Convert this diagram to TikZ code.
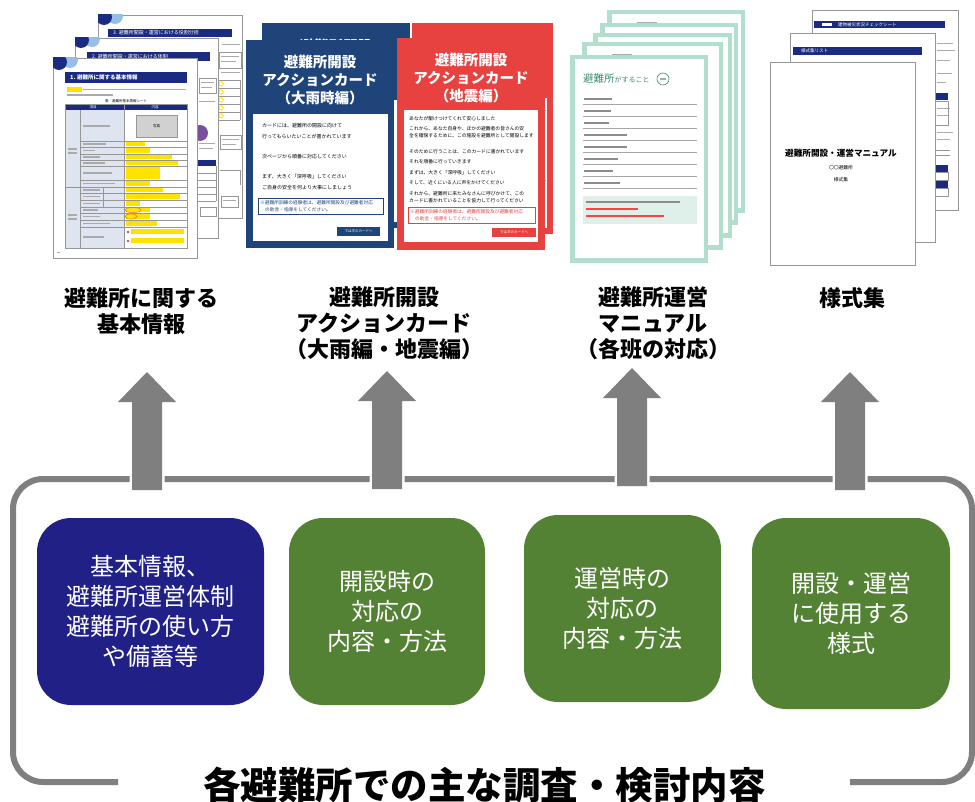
\documentclass[tikz,border=0pt]{standalone}
\usepackage{fontspec}
\setmainfont{Noto Sans CJK JP}
\definecolor{agray}{RGB}{127,127,127}
\definecolor{boxnavy}{RGB}{32,32,135}
\definecolor{boxgreen}{RGB}{84,130,53}
\definecolor{cardblue}{RGB}{30,68,122}
\definecolor{cardred}{RGB}{232,66,64}
\definecolor{docnavy}{RGB}{28,43,130}
\definecolor{lightblu}{RGB}{150,190,230}
\definecolor{cellblue}{RGB}{222,229,240}
\definecolor{hiyellow}{RGB}{255,226,0}
\definecolor{mintc}{RGB}{178,222,206}
\definecolor{mintlight}{RGB}{222,240,233}
\definecolor{tealtxt}{RGB}{60,140,115}
\definecolor{txtgray}{RGB}{170,170,170}
\definecolor{edgegray}{RGB}{150,150,150}
\definecolor{docpurple}{RGB}{120,80,155}
\definecolor{hiorange}{RGB}{230,120,20}
\tikzset{
  uparrow/.pic={
    \draw[white, line width=5pt] (0,0) -- (29,30) -- (15,30) -- (15,118) -- (-15,118) -- (-15,30) -- (-29,30) -- cycle;
    \fill[agray] (0,0) -- (29,30) -- (15,30) -- (15,118) -- (-15,118) -- (-15,30) -- (-29,30) -- cycle;
  }
}
\begin{document}
\begin{tikzpicture}[x=1pt,y=-1pt,
  pageedge/.style={draw=edgegray, line width=0.7pt, fill=white},
  hdrbar/.style={fill=docnavy},
  thinline/.style={draw=edgegray, line width=0.35pt},
  tinytxt/.style={inner sep=0pt, font=\fontsize{5}{6}\selectfont},
  minitxt/.style={inner sep=0pt, font=\fontsize{3.5}{4}\selectfont},
  cardtitle/.style={text=white, font=\bfseries\fontsize{14.5}{18}\selectfont, align=center, inner sep=0pt},
  topicbox/.style={rounded corners=34pt, text=white, align=center, inner sep=0pt, font=\fontsize{24}{30}\selectfont},
  doclabel/.style={align=center, font=\bfseries\fontsize{22}{26}\selectfont, inner sep=0pt},
  frameline/.style={draw=agray, line width=6pt, rounded corners=30pt}
]
\useasboundingbox (0,0) rectangle (975,802);
\fill[white] (0,0) rectangle (975,802);

% ================= SET 1 : basic information pages =================
% page 3
\draw[pageedge] (98,15) rectangle (242,218);
\begin{scope}
  \clip (98,15) rectangle (242,218);
  \fill[lightblu] (115,16) circle (8);
  \fill[docnavy] (104,17) circle (8);
\end{scope}
\fill[hdrbar] (108,29) rectangle (232,37);
\node[tinytxt, text=white, anchor=west] (p3h) at (113,33) {3. 避難所開設・運営における役割分担};
\fill[txtgray] (222,44) rectangle (240,45.5);
\draw[thinline] (219,52) rectangle (241,68);
\fill[txtgray] (221,56) rectangle (239,57.2);
\fill[txtgray] (221,61) rectangle (236,62.2);
\fill[txtgray] (221,72) rectangle (240,73.3);
\foreach \yy in {80,88,96,104,112,120} \draw[thinline] (218,\yy) -- (240,\yy);
\draw[thinline] (240,80) -- (240,120);
\foreach \yy in {84,92,100,108,116} \draw[hiyellow, line width=0.8pt] (221,\yy) circle (2.2);
\draw[thinline] (220,135) rectangle (241,149);
\fill[txtgray] (222,139) rectangle (239,140.2);
\fill[txtgray] (222,144) rectangle (236,145.2);
\draw[thinline] (220,170) -- (240,170) -- (240,185);
\draw[thinline] (221,196) rectangle (238,207);
\fill[txtgray] (223,200) rectangle (236,201.2);

% page 2
\draw[pageedge] (75,38) rectangle (218,238);
\begin{scope}
  \clip (75,38) rectangle (218,238);
  \fill[lightblu] (92,39) circle (8);
  \fill[docnavy] (81,40) circle (8);
\end{scope}
\fill[hdrbar] (87,52) rectangle (210,61);
\node[tinytxt, text=white, anchor=west] (p2h) at (92,56.5) {2. 避難所開設・運営における体制};
\draw[thinline] (199,78) rectangle (216,93);
\fill[txtgray] (201,82) rectangle (214,83.2);
\fill[txtgray] (201,87) rectangle (212,88.2);
\fill[txtgray] (199,101) rectangle (215,102.2);
\fill[docpurple] (200,133) circle (8);
\fill[txtgray] (199,143) rectangle (215,144.2);
\fill[txtgray] (199,148) rectangle (213,149.2);
\fill[docnavy] (197,160) rectangle (216,166);
\foreach \yy in {173,180,187,194,201} \draw[thinline] (197,\yy) -- (216,\yy);
\draw[thinline] (216,166) -- (216,201);
\draw[thinline] (200,207) rectangle (216,216);

% page 1 (front)
\draw[pageedge] (53,58) rectangle (197,258);
\begin{scope}
  \clip (53,58) rectangle (197,258);
  \fill[lightblu] (70,60) circle (8);
  \fill[docnavy] (59,62) circle (8);
\end{scope}
\fill[hdrbar] (65,72) rectangle (187,83);
\node[inner sep=0pt, text=white, anchor=west, font=\bfseries\fontsize{5.5}{6}\selectfont] (p1h) at (70,77.5) {1. 避難所に関する基本情報};
\fill[hiyellow] (67,87) rectangle (82,92);
\fill[txtgray] (83,88.7) rectangle (186,90.3);
\fill[txtgray] (67,94.2) rectangle (113,95.8);
\node[minitxt] (p1cap) at (126,101) {表　避難所基本情報シート};
\fill[cellblue] (65,110) rectangle (124,248);
\fill[docnavy] (65,104) rectangle (187,110);
\node[minitxt, text=white] (p1c1) at (93,107) {項目};
\node[minitxt, text=white] (p1c2) at (155,107) {内容};
\draw[thinline] (65,104) rectangle (187,248);
\draw[thinline] (80,110) -- (80,248);
\draw[thinline] (124,104) -- (124,248);
\draw[thinline] (103,187) -- (103,207);
\draw[thinline] (65,187) -- (187,187);
\foreach \yy in {141,147,154,160,166,180,193,200,207,213,220,227} \draw[thinline] (80,\yy) -- (187,\yy);
\fill[black!18] (136,115) rectangle (177,137);
\draw[thinline] (136,115) rectangle (177,137);
\node[minitxt] (p1photo) at (156.5,126) {写真};
\fill[txtgray] (83,125.2) rectangle (110,126.8);
\foreach \ya/\yb/\w/\v in {141/147/106/145, 147/154/95/150, 154/160/100/172, 160/166/105/178, 166/180/112/160, 180/187/115/150, 187/193/100/163, 193/200/100/180, 200/207/100/140, 207/213/98/150, 213/220/100/150, 220/227/110/157}{
  \fill[hiyellow] (125.5,\ya+1) rectangle (\v,\yb-1);
  \fill[txtgray] (83,{(\ya+\yb)/2-0.8}) rectangle (\w,{(\ya+\yb)/2+0.8});
}
\draw[hiorange, line width=0.5pt] (133,210) ellipse (8 and 2.6);
\draw[hiorange, line width=0.5pt] (131,216.5) ellipse (6 and 2.6);
\fill[txtgray] (68,148.5) rectangle (77,150);
\fill[txtgray] (68,152.5) rectangle (77,154);
\fill[txtgray] (68,214.5) rectangle (77,216);
\fill[txtgray] (68,218.5) rectangle (77,220);
\fill[txtgray] (83,236.5) rectangle (104,238);
\fill[red] (128,232) circle (1.1);
\fill[red] (128,241) circle (1.1);
\fill[hiyellow] (131,229.5) rectangle (184,234.5);
\fill[hiyellow] (131,238.5) rectangle (184,243.5);
\fill[txtgray] (57,252) rectangle (60,253.3);

% ================= SET 2 : action cards =================
\fill[cardblue] (262,23) rectangle (410,228);
\fill[white] (270,100) rectangle (404,222);
\begin{scope}
  \clip (262,23) rectangle (410,40);
  \node[cardtitle] (bkt) at (336,46) {避難所開設};
\end{scope}
\fill[cardred] (412,23) rectangle (553,234);
\fill[white] (419,98) rectangle (547,228);
\fill[txtgray] (541,110) rectangle (546,111.5);
\fill[txtgray] (541,180) rectangle (546,181.5);

% blue front card
\fill[cardblue] (246,40) rectangle (394,248);
\node[cardtitle] (bcardt) at (320,80) {避難所開設\\アクションカード\\（大雨時編）};
\fill[white] (253,114) rectangle (388,241);
\node[tinytxt, anchor=west] (bc1) at (262,126) {カードには、避難所の開設に向けて};
\node[tinytxt, anchor=west] (bc2) at (262,137) {行ってもらいたいことが書かれています};
\node[tinytxt, anchor=west] (bc3) at (262,157) {次ページから順番に対応してください};
\node[tinytxt, anchor=west] (bc4) at (262,177) {まず、大きく「深呼吸」してください};
\node[tinytxt, anchor=west] (bc5) at (262,188) {ご自身の安全を何より大事にしましょう};
\draw[cardblue, line width=0.7pt] (258,198) rectangle (383,214);
\node[inner sep=0pt, anchor=west, text=cardblue, font=\fontsize{4.7}{5}\selectfont] (bc6) at (260,203) {※避難所訓練の経験者は、避難所開設及び避難者対応};
\node[inner sep=0pt, anchor=west, text=cardblue, font=\fontsize{4.7}{5}\selectfont] (bc7) at (265,210) {の助言・指導をしてください。};
\fill[cardblue] (337,227) rectangle (380,236);
\node[inner sep=0pt, text=white, font=\fontsize{3.5}{4}\selectfont] (bc8) at (358.5,231.5) {では次のカードへ};

% red front card
\fill[cardred] (397,38) rectangle (545,250);
\node[cardtitle] (rcardt) at (471,78) {避難所開設\\アクションカード\\（地震編）};
\fill[white] (404,110) rectangle (538,242);
\node[tinytxt, anchor=west, font=\fontsize{4.8}{5}\selectfont] (rc1) at (409,119) {あなたが駆けつけてくれて安心しました};
\node[tinytxt, anchor=west, font=\fontsize{4.8}{5}\selectfont] (rc2) at (409,129) {これから、あなた自身や、ほかの避難者の皆さんの安};
\node[tinytxt, anchor=west, font=\fontsize{4.8}{5}\selectfont] (rc3) at (409,135.5) {全を確保するために、この施設を避難所として開設します};
\node[tinytxt, anchor=west, font=\fontsize{4.8}{5}\selectfont] (rc4) at (409,152) {そのために行うことは、このカードに書かれています};
\node[tinytxt, anchor=west, font=\fontsize{4.8}{5}\selectfont] (rc5) at (409,162) {それを順番に行っていきます};
\node[tinytxt, anchor=west, font=\fontsize{4.8}{5}\selectfont] (rc6) at (409,173) {まずは、大きく「深呼吸」してください};
\node[tinytxt, anchor=west, font=\fontsize{4.8}{5}\selectfont] (rc7) at (409,183) {そして、近くにいる人に声をかけてください};
\node[tinytxt, anchor=west, font=\fontsize{4.8}{5}\selectfont] (rc8) at (409,194) {それから、避難所に来たみなさんに呼びかけて、この};
\node[tinytxt, anchor=west, font=\fontsize{4.8}{5}\selectfont] (rc9) at (409,200.5) {カードに書かれていることを協力して行ってください};
\draw[cardred, line width=0.7pt] (408,207) rectangle (535,223);
\node[inner sep=0pt, anchor=west, text=cardred, font=\fontsize{4.7}{5}\selectfont] (rc10) at (410,212) {※避難所訓練の経験者は、避難所開設及び避難者対応};
\node[inner sep=0pt, anchor=west, text=cardred, font=\fontsize{4.7}{5}\selectfont] (rc11) at (415,219) {の助言・指導をしてください。};
\fill[cardred] (492,228) rectangle (536,237);
\node[inner sep=0pt, text=white, font=\fontsize{3.5}{4}\selectfont] (rc12) at (514,232.5) {では次のカードへ};

% ================= SET 3 : manual pages =================
\foreach \xa/\ya/\xb/\yb in {607/10/745/213, 600/23/738/225, 593/33/732/238, 582/42/723/250}{
  \fill[mintc] (\xa,\ya) rectangle (\xb,\yb);
  \fill[white] (\xa+4.5,\ya+4.5) rectangle (\xb-4.5,\yb-4.5);
  \fill[txtgray] (\xa+30,\ya+12) rectangle (\xa+50,\ya+13.3);
}
\fill[mintc] (570,55) rectangle (708,263);
\fill[white] (574.5,59.5) rectangle (703.5,258.5);
\node[inner sep=0pt, anchor=base west, text=tealtxt] (mt) at (583,83) {\fontsize{10.5}{11}\selectfont 避難所\fontsize{7}{8}\selectfont がすること};
\draw[tealtxt, line width=0.6pt] (663,79) circle (6);
\fill[txtgray] (660,78.5) rectangle (666,79.6);
\foreach \k/\w in {0/612,1/611,2/609,3/627,4/627,5/618,6/613,7/620}{
  \fill[black!45] (584,{98+12*\k}) rectangle (\w,{99.6+12*\k});
  \draw[black!35, line width=0.5pt] (583,{104+12*\k}) -- (697,{104+12*\k});
}
\fill[mintlight] (583,196) rectangle (697,224);
\fill[black!45] (586,201.5) rectangle (680,202.8);
\fill[red!75] (586,208.5) rectangle (638,209.8);
\fill[red!75] (586,215.5) rectangle (664,216.8);

% ================= SET 4 : forms =================
\draw[pageedge] (812,10) rectangle (958,210);
\fill[hdrbar] (814,21) rectangle (945,28);
\fill[white] (822,22.6) rectangle (832,26.4);
\node[inner sep=0pt, anchor=west, text=white, font=\fontsize{4.5}{5}\selectfont] (f3h) at (838,24.5) {建物被災状況チェックシート};
\foreach \yy/\w in {43/953,50/955,60/950,73/952,82/946,108/950,115/948,132/953,139/950}
  \fill[txtgray] (937,\yy) rectangle (\w,\yy+1.2);
\fill[docnavy] (935,93) rectangle (948,100);
\draw[thinline] (935,101) rectangle (948,125);
\draw[thinline] (935,150) -- (950,150);
\draw[thinline] (935,155) -- (950,155);
\fill[docnavy] (935,165) rectangle (948,172);
\draw[thinline] (935,172) rectangle (948,180);
\fill[docnavy] (935,181) rectangle (948,188);
\draw[thinline] (935,188) rectangle (948,196);

\draw[pageedge] (790,33) rectangle (935,242);
\fill[hdrbar] (793,47) rectangle (922,55);
\node[inner sep=0pt, anchor=west, text=white, font=\fontsize{4.5}{5}\selectfont] (f2h) at (801,51) {様式集リスト};

\draw[pageedge] (770,62) rectangle (915,265);
\node[inner sep=0pt, font=\bfseries\fontsize{8.6}{9}\selectfont] (f1t) at (841,153) {避難所開設・運営マニュアル};
\node[inner sep=0pt, font=\fontsize{4.8}{5}\selectfont] (f1a) at (841,168) {〇〇避難所};
\node[inner sep=0pt, font=\fontsize{4.8}{5}\selectfont] (f1b) at (841,180) {様式集};

% ================= labels =================
\node[doclabel] (lab1) at (141,311) {避難所に関する\\基本情報};
\node[doclabel] (lab2) at (384,323) {避難所開設\\アクションカード\\（大雨編・地震編）};
\node[doclabel] (lab3) at (653,323) {避難所運営\\マニュアル\\（各班の対応）};
\node[doclabel] (lab4) at (852,298) {様式集};

% ================= frame and arrows =================
\draw[frameline] (118,782) -- (13,782) -- (13,479) -- (972,479) -- (972,782) -- (850,782);
\pic (ar1) at (147,372) {uparrow};
\pic (ar2) at (387,371) {uparrow};
\pic (ar3) at (632,368) {uparrow};
\pic (ar4) at (850,372) {uparrow};

% ================= topic boxes =================
\node[topicbox, fill=boxnavy, minimum width=227pt, minimum height=187pt] (b1) at (150.5,611.5) {基本情報、\\避難所運営体制\\避難所の使い方\\や備蓄等};
\node[topicbox, fill=boxgreen, minimum width=196pt, minimum height=187pt] (b2) at (387,611.5) {開設時の\\対応の\\内容・方法};
\node[topicbox, fill=boxgreen, minimum width=197pt, minimum height=187pt] (b3) at (622.5,608.5) {運営時の\\対応の\\内容・方法};
\node[topicbox, fill=boxgreen, minimum width=198pt, minimum height=191pt] (b4) at (851,613.5) {開設・運営\\に使用する\\様式};

\node[inner sep=0pt, anchor=base, font=\bfseries\fontsize{37.5}{40}\selectfont] (title) at (484.5,799) {各避難所での主な調査・検討内容};
\end{tikzpicture}
\end{document}
